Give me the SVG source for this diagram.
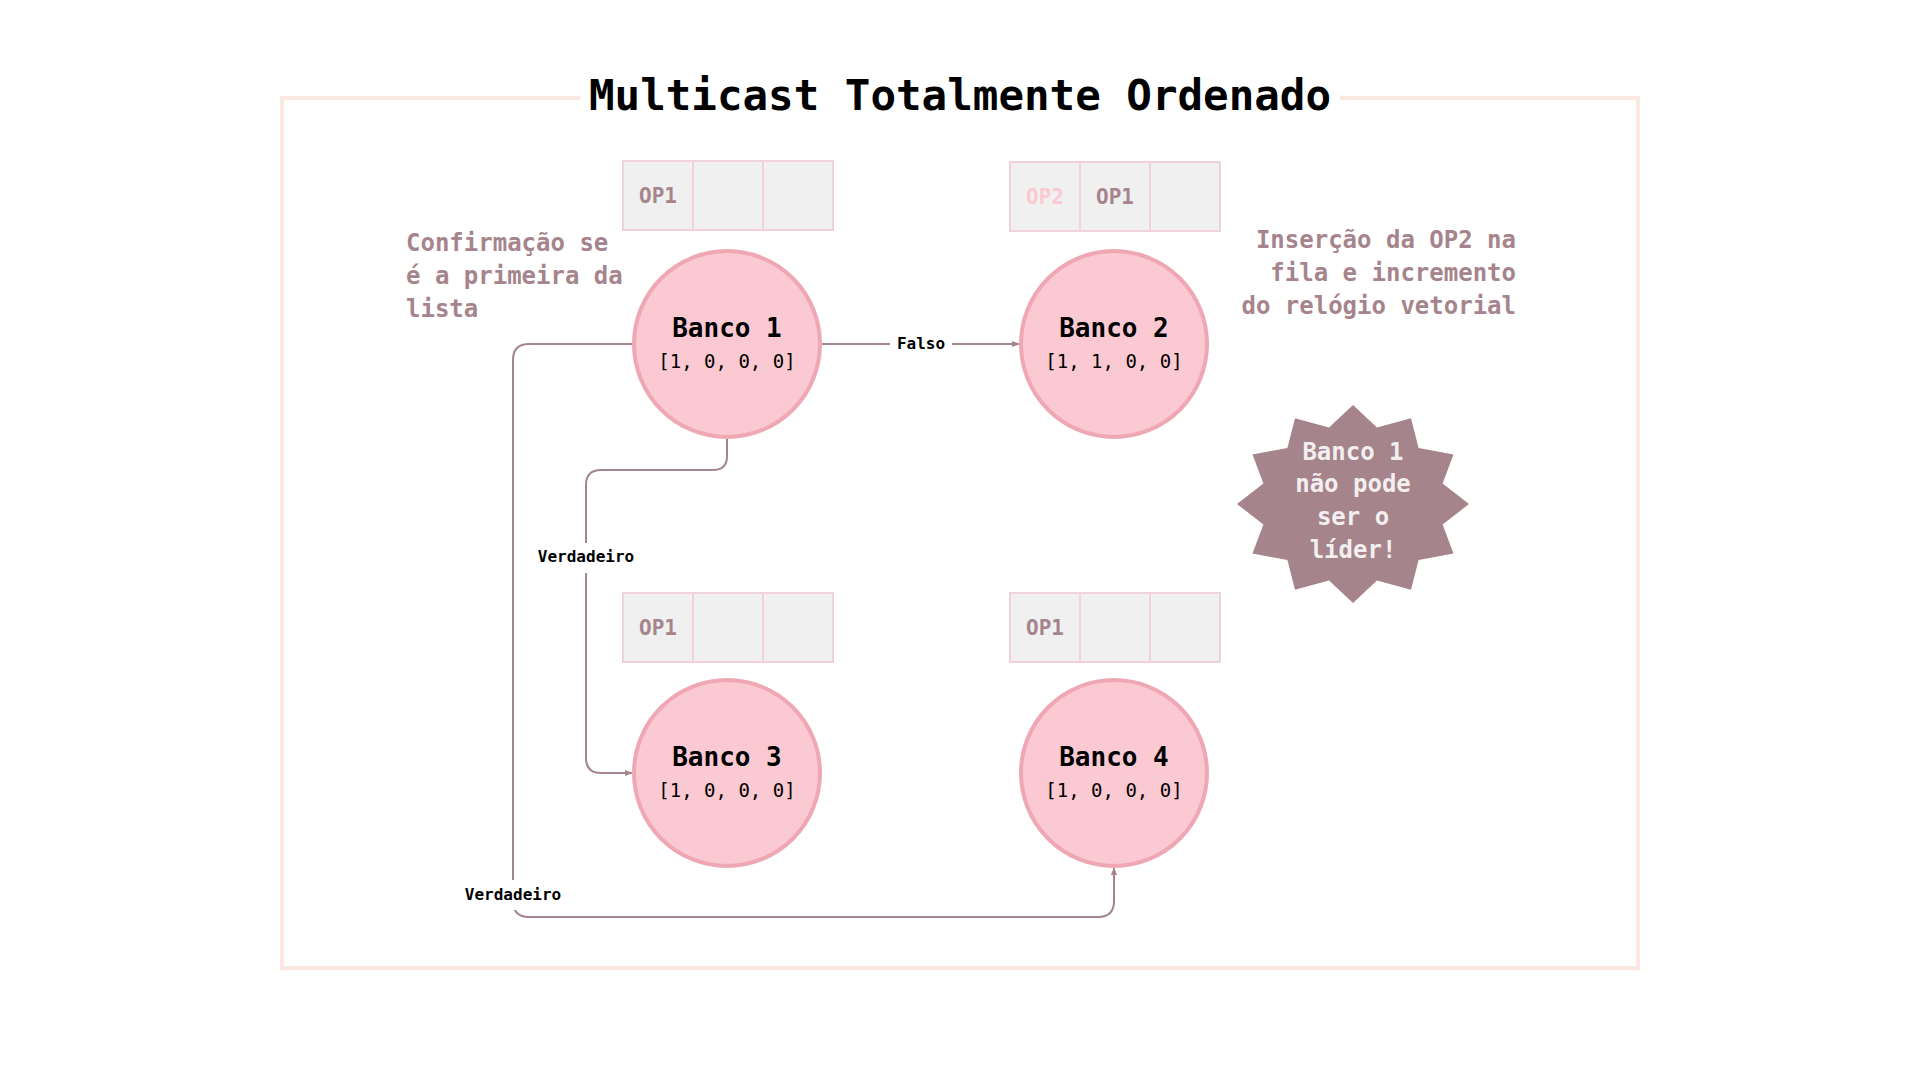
<svg xmlns="http://www.w3.org/2000/svg" width="1920" height="1080" viewBox="0 0 1920 1080">
  <defs>
    <marker id="arrow" viewBox="0 0 10 10" refX="9" refY="5" markerWidth="8" markerHeight="8" markerUnits="userSpaceOnUse" orient="auto">
      <path d="M0,1 L10,5 L0,9 Z" fill="#a5858c"/>
    </marker>
  </defs>
  <style>
    text { font-family: "DejaVu Sans Mono", "Liberation Mono", monospace; }
    .frame { fill: none; stroke: #fbe9e1; stroke-width: 4; }
    .title { font-size: 42.5px; font-weight: bold; fill: #000; text-anchor: middle; }
    .bank { fill: #fbc9d2; stroke: #eea7b3; stroke-width: 4; }
    .bank-name { font-size: 26px; font-weight: bold; fill: #000; text-anchor: middle; }
    .bank-clock { font-size: 19px; fill: #000; text-anchor: middle; }
    .cell { fill: #f0f0f0; stroke: #f0d2d8; stroke-width: 2; }
    .op { font-size: 21px; font-weight: bold; fill: #a6848c; text-anchor: middle; }
    .op-new { fill: #fbc9d2; }
    .note { font-size: 24px; font-weight: bold; fill: #a6848c; }
    .edge { fill: none; stroke: #a5858c; stroke-width: 2; }
    .edge-label { font-size: 16px; font-weight: bold; fill: #000; text-anchor: middle; }
    .star { fill: #a5848c; }
    .star-text { font-size: 24px; font-weight: bold; fill: #f3eff0; text-anchor: middle; }
  </style>

  <rect width="1920" height="1080" fill="#ffffff"/>

  <!-- outer frame with title -->
  <g id="frame">
    <rect class="frame" x="282" y="98" width="1356" height="870"/>
    <rect x="580" y="78" width="760" height="40" fill="#ffffff"/>
    <text class="title" x="960" y="110">Multicast Totalmente Ordenado</text>
  </g>

  <!-- connectors -->
  <g id="connectors">
    <path class="edge" d="M821,344 H1019" marker-end="url(#arrow)"/>
    <path class="edge" d="M727,438 V456 Q727,470 713,470 H601 Q586,470 586,485 V758 Q586,773 601,773 H632" marker-end="url(#arrow)"/>
    <path class="edge" d="M633,344 H529 Q513,344 513,360 V901 Q513,917 529,917 H1098 Q1114,917 1114,901 V868" marker-end="url(#arrow)"/>
    <g id="label-falso">
      <rect x="890" y="332" width="62" height="24" fill="#ffffff"/>
      <text class="edge-label" x="921" y="349">Falso</text>
    </g>
    <g id="label-verdadeiro-1">
      <rect x="536" y="543" width="100" height="30" fill="#ffffff"/>
      <text class="edge-label" x="586" y="562">Verdadeiro</text>
    </g>
    <g id="label-verdadeiro-2">
      <rect x="463" y="880" width="100" height="30" fill="#ffffff"/>
      <text class="edge-label" x="513" y="900">Verdadeiro</text>
    </g>
  </g>

  <!-- queues -->
  <g id="queue-1">
    <rect class="cell" x="623" y="161" width="70" height="69"/>
    <rect class="cell" x="693" y="161" width="70" height="69"/>
    <rect class="cell" x="763" y="161" width="70" height="69"/>
    <text class="op" x="658" y="203">OP1</text>
  </g>
  <g id="queue-2">
    <rect class="cell" x="1010" y="162" width="70" height="69"/>
    <rect class="cell" x="1080" y="162" width="70" height="69"/>
    <rect class="cell" x="1150" y="162" width="70" height="69"/>
    <text class="op op-new" x="1045" y="204">OP2</text>
    <text class="op" x="1115" y="204">OP1</text>
  </g>
  <g id="queue-3">
    <rect class="cell" x="623" y="593" width="70" height="69"/>
    <rect class="cell" x="693" y="593" width="70" height="69"/>
    <rect class="cell" x="763" y="593" width="70" height="69"/>
    <text class="op" x="658" y="635">OP1</text>
  </g>
  <g id="queue-4">
    <rect class="cell" x="1010" y="593" width="70" height="69"/>
    <rect class="cell" x="1080" y="593" width="70" height="69"/>
    <rect class="cell" x="1150" y="593" width="70" height="69"/>
    <text class="op" x="1045" y="635">OP1</text>
  </g>

  <!-- bank nodes -->
  <g id="banco-1">
    <circle class="bank" cx="727" cy="344" r="93"/>
    <text class="bank-name" x="727" y="337">Banco 1</text>
    <text class="bank-clock" x="727" y="368">[1, 0, 0, 0]</text>
  </g>
  <g id="banco-2">
    <circle class="bank" cx="1114" cy="344" r="93"/>
    <text class="bank-name" x="1114" y="337">Banco 2</text>
    <text class="bank-clock" x="1114" y="368">[1, 1, 0, 0]</text>
  </g>
  <g id="banco-3">
    <circle class="bank" cx="727" cy="773" r="93"/>
    <text class="bank-name" x="727" y="766">Banco 3</text>
    <text class="bank-clock" x="727" y="797">[1, 0, 0, 0]</text>
  </g>
  <g id="banco-4">
    <circle class="bank" cx="1114" cy="773" r="93"/>
    <text class="bank-name" x="1114" y="766">Banco 4</text>
    <text class="bank-clock" x="1114" y="797">[1, 0, 0, 0]</text>
  </g>

  <!-- annotations -->
  <g id="note-confirmacao">
    <text class="note" x="406" y="251">Confirmação se</text>
    <text class="note" x="406" y="284">é a primeira da</text>
    <text class="note" x="406" y="317">lista</text>
  </g>
  <g id="note-insercao">
    <text class="note" x="1516" y="248" text-anchor="end">Inserção da OP2 na</text>
    <text class="note" x="1516" y="281" text-anchor="end">fila e incremento</text>
    <text class="note" x="1516" y="314" text-anchor="end">do relógio vetorial</text>
  </g>

  <!-- leader warning burst -->
  <g id="lider-burst">
    <polygon class="star" points="1353,405 1377,427.5 1411,418.3 1418.6,448 1453.5,454.5 1442.6,483.5 1469,504 1442.6,524.5 1453.5,553.5 1418.6,560 1411,589.7 1377,580.5 1353,603 1329,580.5 1295,589.7 1287.4,560 1252.5,553.5 1263.4,524.5 1237,504 1263.4,483.5 1252.5,454.5 1287.4,448 1295,418.3 1329,427.5"/>
    <text class="star-text" x="1353" y="460">Banco 1</text>
    <text class="star-text" x="1353" y="492">não pode</text>
    <text class="star-text" x="1353" y="525">ser o</text>
    <text class="star-text" x="1353" y="558">líder!</text>
  </g>
</svg>
